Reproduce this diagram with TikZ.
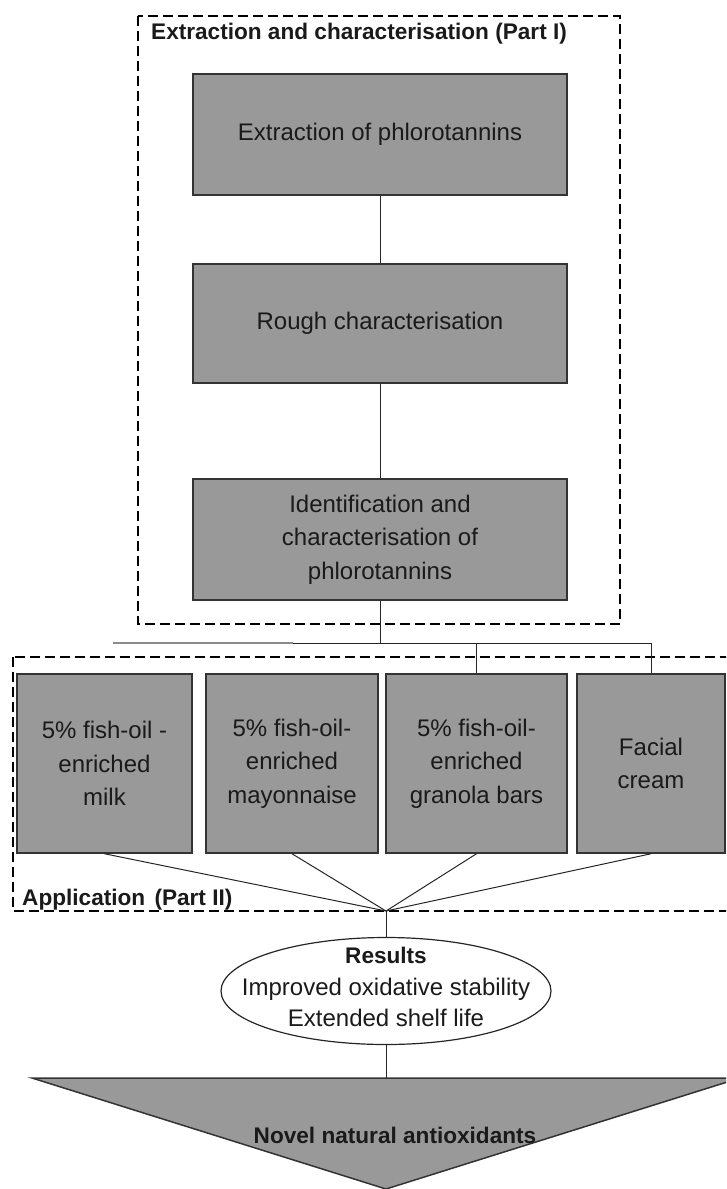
\documentclass[tikz,border=0pt]{standalone}
\usepackage{fontspec}
\setmainfont{Liberation Sans}
\usetikzlibrary{shapes.geometric}
\definecolor{boxgray}{HTML}{999999}
\definecolor{edgegray}{HTML}{333333}
\definecolor{txt}{HTML}{1A1A1A}
\tikzset{
  box/.style={draw=edgegray, fill=boxgray, line width=1.5pt, inner sep=0pt, align=center,
    text=txt, font=\fontsize{24}{33.5}\selectfont},
  frame/.style={draw=black, line width=1.4pt, dash pattern=on 10pt off 5pt},
  conn/.style={draw=black!85, line width=1pt},
  lbl/.style={font=\bfseries\fontsize{22.6}{26}\selectfont, text=txt, inner sep=0pt},
}
\begin{document}
\begin{tikzpicture}[x=1pt, y=-1pt]
\useasboundingbox (0,0) rectangle (726,1189);
\clip (0,0) rectangle (726,1189);

% dashed frames
\draw[frame] (138,16) rectangle (620,624);
\draw[frame] (13,657) rectangle (770,911);

\node[lbl, anchor=west] (t1) at (151,34) {Extraction and characterisation (Part I)};
\node[lbl, anchor=west] (t2) at (22,900) {Application\hspace{3pt} (Part II)};

% top column
\node[box, minimum width=374pt, minimum height=121pt] (b1) at (380,134.5) {Extraction of phlorotannins};
\node[box, minimum width=374pt, minimum height=119pt] (b2) at (380,323.5) {Rough characterisation};
\node[box, minimum width=374pt, minimum height=121pt] (b3) at (380,539.5) {Identification and\\characterisation of\\phlorotannins};

\draw[conn] (b1.south) -- (b2.north);
\draw[conn] (b2.south) -- (b3.north);

% application boxes
\node[box, minimum width=175pt, minimum height=179pt] (bA) at (104.5,763.5) {5\% fish-oil -\\enriched\\milk};
\node[box, minimum width=172pt, minimum height=179pt] (bB) at (292,763.5) {5\% fish-oil-\\enriched\\mayonnaise};
\node[box, minimum width=181pt, minimum height=179pt] (bC) at (476.5,763.5) {5\% fish-oil-\\enriched\\granola bars};
\node[box, minimum width=148pt, minimum height=179pt] (bD) at (651,763.5) {Facial\\cream};

% bus
\coordinate (busL) at (113,643);
\coordinate (busM) at (293,643);
\coordinate (bus) at (380,643);
\coordinate (busR) at (651,643);
\draw[conn] (b3.south) -- (bus);
\draw[draw=black!45, line width=2.5pt] (busL) -- (busM);
\draw[conn] (busM) -- (busR);
\draw[conn] (bC.north |- bus) -- (bC.north);
\draw[conn] (busR) -- (bD.north);

% convergence
\coordinate (conv) at (386,911);
\draw[conn] (bA.south) -- (conv);
\draw[conn] (bB.south) -- (conv);
\draw[conn] (bC.south) -- (conv);
\draw[conn] (bD.south) -- (conv);

% results ellipse
\node[ellipse, draw=black!85, line width=1.2pt, fill=white, minimum width=330pt, minimum height=107pt, inner sep=0pt] (res) at (386,991) {};
\node[align=center, text=txt, font=\fontsize{24}{31.5}\selectfont, inner sep=0pt] (restext) at (386,987)
  {{\bfseries\fontsize{22.6}{31.5}\selectfont Results}\\Improved oxidative stability\\Extended shelf life};
\draw[conn] (conv) -- (res.north);

% final triangle
\coordinate (tl) at (32,1078);
\coordinate (tr) at (740,1078);
\coordinate (tp) at (386,1189);
\draw[fill=boxgray, draw=edgegray, line width=1.5pt, line join=miter] (tl) -- (tr) -- (tp) -- cycle;
\node[lbl] (novel) at (395,1135) {Novel natural antioxidants};
\draw[conn] (res.south) -- (res.south |- tl);
\end{tikzpicture}
\end{document}
